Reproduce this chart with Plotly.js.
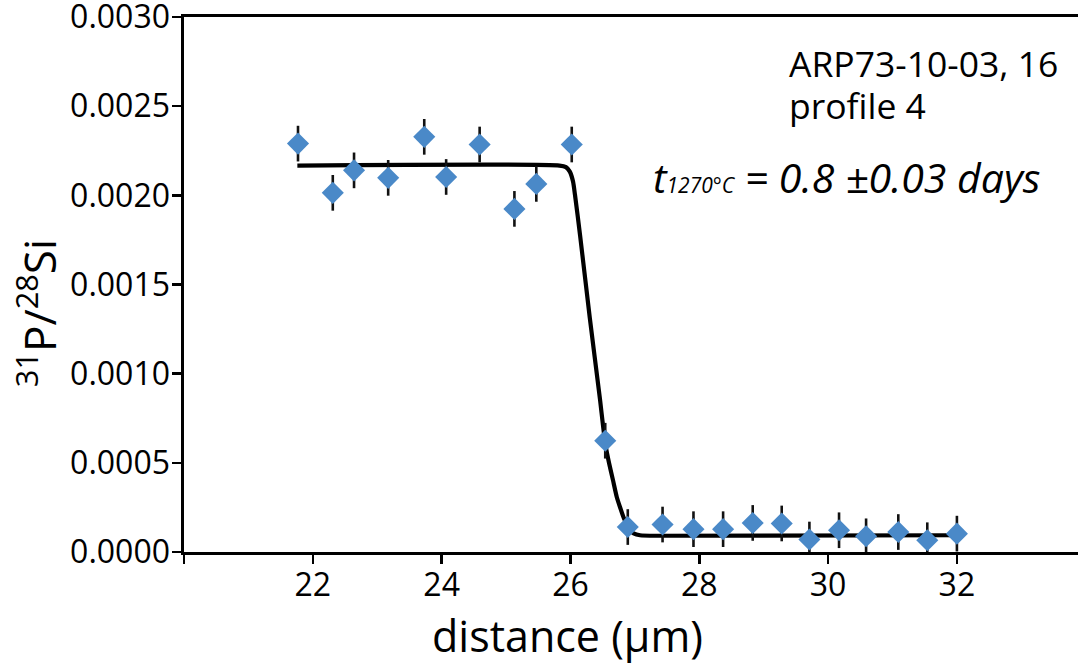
<!DOCTYPE html>
<html>
<head>
<meta charset="utf-8">
<script src="https://cdn.plot.ly/plotly-3.0.1.min.js"></script>
<style>html,body{margin:0;padding:0;background:#fff;}#chart{width:1078px;height:665px;}</style>
</head>
<body>
<div id="chart"></div>
<script>
// measured profile (distance in µm, 31P/28Si ratio)
const distance = [21.77, 22.31, 22.64, 23.17, 23.73, 24.07, 24.59, 25.13, 25.47, 26.02, 26.54, 26.89, 27.43, 27.91, 28.37, 28.83, 29.28, 29.71, 30.17, 30.59, 31.09, 31.54, 32.00];
const ratio = [0.002290, 0.002014, 0.002140, 0.002098, 0.002328, 0.002103, 0.002285, 0.001924, 0.002064, 0.002285, 0.000624, 0.000140, 0.000154, 0.000128, 0.000128, 0.000163, 0.000160, 0.000070, 0.000122, 0.000088, 0.000112, 0.000066, 0.000103];
const ratioErr = [0.0001, 0.0001, 0.0001, 0.0001, 0.0001, 0.0001, 0.0001, 0.0001, 0.0001, 0.0001, 0.0001, 0.0001, 0.0001, 0.0001, 0.0001, 0.0001, 0.0001, 0.0001, 0.0001, 0.0001, 0.0001, 0.0001, 0.0001];

// diffusion model curve
const fitX = [21.76, 25.83, 25.93, 25.99, 26.04, 26.07, 26.15, 26.30, 26.46, 26.51, 26.55, 26.60, 26.66, 26.72, 26.77, 26.83, 26.88, 26.92, 26.98, 27.08, 27.39, 32.00];
const fitY = [0.002167, 0.002167, 0.002158, 0.002133, 0.002077, 0.002004, 0.001774, 0.001313, 0.000852, 0.000695, 0.000588, 0.000498, 0.000403, 0.000307, 0.000251, 0.000189, 0.000150, 0.000122, 0.000105, 0.000094, 0.000091, 0.000094];

const xTicks = [20, 22, 24, 26, 28, 30, 32];
const xTickText = ['', '22', '24', '26', '28', '30', '32'];
const yTicks = [0, 0.0005, 0.0010, 0.0015, 0.0020, 0.0025, 0.0030];
const yTickText = ['0.0000', '0.0005', '0.0010', '0.0015', '0.0020', '0.0025', '0.0030'];

const FONT = 'Open Sans, Lato, sans-serif';

const traces = [
  {
    x: fitX, y: fitY, type: 'scatter', mode: 'lines',
    line: {color: '#000000', width: 4.2, shape: 'spline', smoothing: 0.6},
    hoverinfo: 'skip', showlegend: false
  },
  {
    x: distance, y: ratio, type: 'scatter', mode: 'markers',
    marker: {symbol: 'diamond', size: 17, color: '#4a89c8', line: {width: 0}},
    error_y: {type: 'data', array: ratioErr, visible: true, color: '#111111', thickness: 2.6, width: 0},
    showlegend: false
  }
];

const layout = {
  width: 1078, height: 665,
  margin: {l: 184, r: 0, t: 17, b: 113, pad: 0},
  paper_bgcolor: '#ffffff', plot_bgcolor: '#ffffff',
  font: {family: FONT, color: '#000000'},
  showlegend: false,
  xaxis: {
    range: [20, 33.88], showgrid: false, zeroline: false,
    showline: true, linecolor: '#000', linewidth: 2.6, mirror: true,
    ticks: 'outside', ticklen: 9, tickwidth: 2.6, tickcolor: '#000',
    tickmode: 'array', tickvals: xTicks, ticktext: xTickText,
    ticklabeloverflow: 'allow', ticklabelstandoff: -6,
    tickfont: {family: FONT, size: 32, color: '#000'}
  },
  yaxis: {
    range: [0, 0.003], showgrid: false, zeroline: false,
    showline: true, linecolor: '#000', linewidth: 2.6, mirror: false,
    ticks: 'outside', ticklen: 9, tickwidth: 2.6, tickcolor: '#000',
    tickmode: 'array', tickvals: yTicks, ticktext: yTickText,
    ticklabeloverflow: 'allow', ticklabelstandoff: -4,
    tickfont: {family: FONT, size: 32, color: '#000'}
  },
  annotations: [
    {text: 'distance (µm)', xref: 'paper', yref: 'paper', x: 0.429, y: -0.157,
     xanchor: 'center', yanchor: 'middle', showarrow: false,
     font: {family: FONT, size: 43, color: '#000'}},
    {text: '<sup>31</sup>P/<sup>28</sup>Si', xref: 'paper', yref: 'paper', x: -0.1644, y: 0.4464,
     xanchor: 'center', yanchor: 'middle', textangle: -90, showarrow: false,
     font: {family: FONT, size: 44, color: '#000'}},
    {text: 'ARP73-10-03, 16', xref: 'paper', yref: 'paper', x: 0.6745, y: 0.914,
     xanchor: 'left', yanchor: 'middle', showarrow: false,
     font: {family: FONT, size: 35.5, color: '#000'}},
    {text: 'profile 4', xref: 'paper', yref: 'paper', x: 0.6745, y: 0.8354,
     xanchor: 'left', yanchor: 'middle', showarrow: false,
     font: {family: FONT, size: 35.5, color: '#000'}},
    {text: '<i>t<span style="font-size:21px">1270°C</span> = 0.8 ±0.03 days</i>', xref: 'paper', yref: 'paper', x: 0.5220, y: 0.7015,
     xanchor: 'left', yanchor: 'middle', showarrow: false,
     font: {family: FONT, size: 41, color: '#000'}}
  ]
};

Plotly.newPlot('chart', traces, layout, {displayModeBar: false, staticPlot: true});
</script>
</body>
</html>
